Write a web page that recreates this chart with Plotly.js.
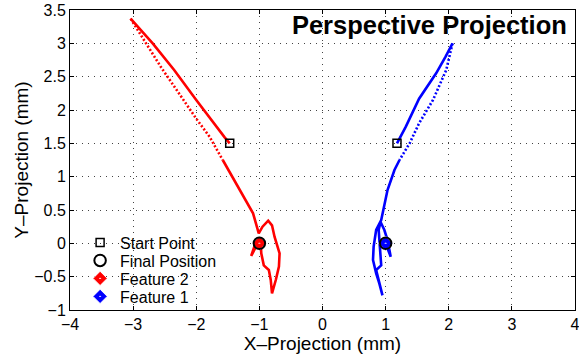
<!DOCTYPE html>
<html>
<head>
<meta charset="utf-8">
<script src="https://cdn.plot.ly/plotly-3.0.1.min.js"></script>
<style>html,body{margin:0;padding:0;background:#fff;}#chart{width:579px;height:357px;}</style>
</head>
<body>
<div id="chart"></div>
<script>
// Feature 2 (red) trajectory: start -> peak (dense) -> return (sparse) -> final loop
const feature2X = [-1.47, -1.55, -2.00, -2.35, -2.69, -2.90, -3.04,
  -2.79, -2.55, -2.31, -2.00, -1.79, -1.58,
  -1.37, -1.21, -1.10, -1.04, -1.01, -0.95, -0.86, -0.80, -0.76, -0.68, -0.69, -0.74, -0.80,
  -0.82, -0.85, -0.93, -0.97, -0.98, -1.03, -1.08, -1.13, -1.07, -1.00];
const feature2Y = [1.50, 1.59, 2.15, 2.60, 3.00, 3.22, 3.37,
  3.00, 2.63, 2.30, 1.87, 1.60, 1.25,
  0.90, 0.65, 0.45, 0.25, 0.15, 0.25, 0.34, 0.27, 0.10, -0.15, -0.35, -0.55, -0.75,
  -0.55, -0.40, -0.33, -0.15, 0.05, 0.00, -0.05, -0.19, -0.08, 0.00];
// Feature 1 (blue) trajectory
const feature1X = [1.18, 1.32, 1.53, 1.80, 1.95, 2.06,
  1.96, 1.75, 1.53, 1.38, 1.22,
  1.14, 1.03, 0.97, 0.93, 0.85, 0.81, 0.80, 0.85, 0.90, 0.95,
  0.88, 0.85, 0.93, 0.90, 0.89, 0.92, 0.98, 1.03, 1.08, 1.04, 1.00];
const feature1Y = [1.50, 1.75, 2.17, 2.55, 2.80, 3.00,
  2.60, 2.15, 1.80, 1.50, 1.25,
  1.10, 0.80, 0.55, 0.35, 0.20, -0.05, -0.25, -0.45, -0.60, -0.78,
  -0.50, -0.40, -0.33, 0.00, 0.20, 0.32, 0.20, 0.05, -0.20, -0.10, 0.00];
// index where the outgoing (dense) leg ends and the sparse return leg ends
const f2Peak = 6, f2SparseEnd = 12;
const f1Peak = 5, f1SparseEnd = 10;

const legendNames = ['Start Point', 'Final Position', 'Feature 2', 'Feature 1'];

const xTickVals = [-4, -3, -2, -1, 0, 1, 2, 3, 4];
const xTickText = ['\u22124', '\u22123', '\u22122', '\u22121', '0', '1', '2', '3', '4'];
const yTickVals = [-1, -0.5, 0, 0.5, 1, 1.5, 2, 2.5, 3, 3.5];
const yTickText = ['\u22121', '\u22120.5', '0', '0.5', '1', '1.5', '2', '2.5', '3', '3.5'];

const RED = '#ff0000', BLUE = '#0000ff';
function seg(xs, ys, a, b, color, dash) {
  return {x: xs.slice(a, b + 1), y: ys.slice(a, b + 1), mode: 'lines', type: 'scatter',
    line: {color: color, width: 2.6, dash: dash}, showlegend: false, hoverinfo: 'skip'};
}
const n2 = feature2X.length, n1 = feature1X.length;
const traces = [
  seg(feature2X, feature2Y, 0, f2Peak, RED, 'solid'),
  seg(feature2X, feature2Y, f2Peak, f2SparseEnd, RED, '2px,2px'),
  seg(feature2X, feature2Y, f2SparseEnd, n2 - 1, RED, 'solid'),
  seg(feature1X, feature1Y, 0, f1Peak, BLUE, 'solid'),
  seg(feature1X, feature1Y, f1Peak, f1SparseEnd, BLUE, '2px,2px'),
  seg(feature1X, feature1Y, f1SparseEnd, n1 - 1, BLUE, 'solid'),
  {x: [feature2X[n2 - 1]], y: [feature2Y[n2 - 1]], mode: 'markers', type: 'scatter', name: legendNames[2],
    legend: 'legend3', marker: {symbol: 'diamond-dot', size: 11, color: RED, line: {color: '#ffffff', width: 1}}},
  {x: [feature1X[n1 - 1]], y: [feature1Y[n1 - 1]], mode: 'markers', type: 'scatter', name: legendNames[3],
    legend: 'legend4', marker: {symbol: 'diamond-dot', size: 11, color: BLUE, line: {color: '#ffffff', width: 1}}},
  {x: [feature2X[0], feature1X[0]], y: [feature2Y[0], feature1Y[0]], mode: 'markers', type: 'scatter',
    name: legendNames[0], legend: 'legend',
    marker: {symbol: 'square-open', size: 8, color: '#000', line: {color: '#000', width: 1.5}}},
  {x: [feature2X[n2 - 1], feature1X[n1 - 1]], y: [feature2Y[n2 - 1], feature1Y[n1 - 1]], mode: 'markers', type: 'scatter',
    name: legendNames[1], legend: 'legend2',
    marker: {symbol: 'circle-open', size: 11.5, color: '#000', line: {color: '#000', width: 2}}}
];

const axisCommon = {
  showline: true, linecolor: '#000', linewidth: 1, mirror: 'ticks',
  ticks: 'inside', ticklen: 4, tickcolor: '#000', tickwidth: 1,
  showgrid: true, gridcolor: '#444', griddash: '1px,5px', gridwidth: 1,
  zeroline: false, tickfont: {size: 16, color: '#000'}, ticklabeloverflow: 'allow'
};
function leg(yc) {
  return {x: 0.02, y: yc, xanchor: 'left', yanchor: 'middle', bgcolor: 'rgba(0,0,0,0)',
    font: {size: 16, color: '#000'}, itemwidth: 30, borderwidth: 0};
}
const layout = {
  width: 579, height: 357,
  margin: {l: 70, r: 4, t: 10, b: 47},
  paper_bgcolor: '#fff', plot_bgcolor: '#fff',
  font: {family: 'Liberation Sans, Arial, Helvetica, sans-serif', color: '#000'},
  title: {text: '<b>Perspective Projection</b>', font: {size: 25.5, color: '#000'},
    xref: 'container', yref: 'container', x: 0.979, xanchor: 'right', y: 0.93, yanchor: 'middle'},
  xaxis: Object.assign({}, axisCommon, {range: [-4, 4], tickvals: xTickVals, ticktext: xTickText,
    title: {text: 'X\u2013Projection (mm)', font: {size: 19}, standoff: 2}}),
  yaxis: Object.assign({}, axisCommon, {range: [-1, 3.5], tickvals: yTickVals, ticktext: yTickText,
    title: {text: 'Y\u2013Projection (mm)', font: {size: 19}, standoff: 0}}),
  showlegend: true,
  legend: leg(0.225), legend2: leg(0.165), legend3: leg(0.105), legend4: leg(0.045)
};
Plotly.newPlot('chart', traces, layout, {displayModeBar: false, staticPlot: true});
</script>
</body>
</html>
